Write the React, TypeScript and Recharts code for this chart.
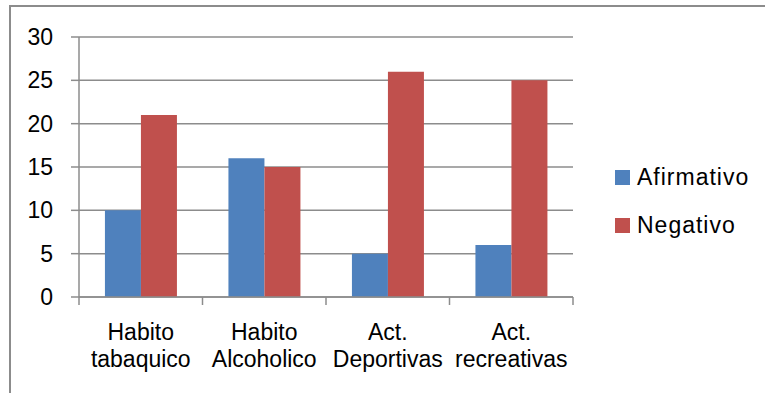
import { BarChart, Bar, XAxis, YAxis, CartesianGrid, Legend } from "recharts"

const categories = ["Habito tabaquico", "Habito Alcoholico", "Act. Deportivas", "Act. recreativas"]
const afirmativo = [10, 16, 5, 6]
const negativo = [21, 15, 26, 25]
const yTicks = [0, 5, 10, 15, 20, 25, 30]

const data = categories.map((name, i) => ({
  name,
  afirmativo: afirmativo[i],
  negativo: negativo[i],
}))

const FONT = "'Liberation Sans', Arial, sans-serif"
const GRID = "#8c8c8c"
const BLUE = "#4f81bd"
const RED = "#c0504d"

// category labels on two lines, plus Excel-style tick marks between categories
function CategoryTick({ x, y, payload, index }: any) {
  const words = String(payload.value).split(" ")
  const half = payload.offset || 0
  const last = index === categories.length - 1
  return (
    <g>
      <line x1={x - half} x2={x - half} y1={y} y2={y + 8} stroke={GRID} strokeWidth={1.5} />
      {last && <line x1={x + half} x2={x + half} y1={y} y2={y + 8} stroke={GRID} strokeWidth={1.5} />}
      <text x={x} y={y + 43} textAnchor="middle" fontSize={23} fill="#000" fontFamily={FONT}>
        <tspan x={x}>{words[0]}</tspan>
        <tspan x={x} dy={27}>
          {words.slice(1).join(" ")}
        </tspan>
      </text>
    </g>
  )
}

function LegendBox() {
  const items = [
    { label: "Afirmativo", color: BLUE },
    { label: "Negativo", color: RED },
  ]
  return (
    <div style={{ fontFamily: FONT, fontSize: 23, color: "#000", letterSpacing: 1 }}>
      {items.map((it) => (
        <div key={it.label} style={{ display: "flex", alignItems: "center", height: 48 }}>
          <span style={{ width: 15, height: 15, background: it.color, marginRight: 7 }} />
          <span>{it.label}</span>
        </div>
      ))}
    </div>
  )
}

export default function App() {
  return (
    <div style={{ position: "absolute", left: 0, top: 0, width: 765, height: 393, overflow: "hidden", background: "#fff" }}>
      <div
        style={{
          position: "absolute",
          left: 9,
          top: 5,
          width: 800,
          height: 420,
          borderLeft: `2px solid ${GRID}`,
          borderTop: `2px solid ${GRID}`,
        }}
      />
      <BarChart
        width={765}
        height={393}
        data={data}
        margin={{ top: 37, right: 192, left: 0, bottom: 16 }}
        barCategoryGap="21%"
        barGap={0}
        style={{ position: "absolute", left: 0, top: 0 }}
      >
        <CartesianGrid horizontal vertical={false} stroke={GRID} strokeWidth={1.5} />
        <XAxis
          dataKey="name"
          tick={<CategoryTick />}
          tickLine={false}
          tickSize={0}
          tickMargin={0}
          interval={0}
          axisLine={{ stroke: GRID, strokeWidth: 1.5 }}
          height={80}
        />
        <YAxis
          domain={[0, 30]}
          ticks={yTicks}
          interval={0}
          width={79}
          tickSize={8}
          tickMargin={18}
          tickLine={{ stroke: GRID, strokeWidth: 1.5 }}
          axisLine={{ stroke: GRID, strokeWidth: 1.5 }}
          tick={{ fontSize: 23, fill: "#000", fontFamily: FONT }}
        />
        <Legend
          layout="vertical"
          align="center"
          verticalAlign="middle"
          content={<LegendBox />}
          wrapperStyle={{ left: 615, top: 153, width: 150 }}
        />
        <Bar dataKey="afirmativo" name="Afirmativo" fill={BLUE} isAnimationActive={false} />
        <Bar dataKey="negativo" name="Negativo" fill={RED} isAnimationActive={false} />
      </BarChart>
    </div>
  )
}
